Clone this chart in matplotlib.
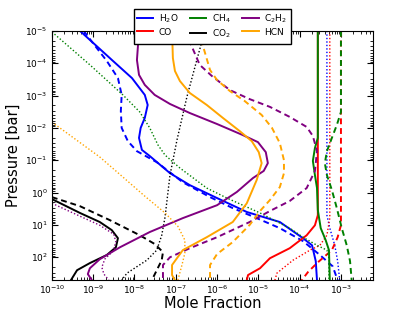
import numpy as np
import matplotlib
matplotlib.use("Agg")
import matplotlib.pyplot as plt
from matplotlib.ticker import NullFormatter

# log10(mole fraction), log10(pressure / bar)
h2o_solid_x = [-9.32, -8.52, -8.06, -7.75, -7.68, -7.75, -7.85, -7.89, -7.82, -7.63, -7.14, -6.66, -6.0, -5.28, -4.48, -3.92, -3.70, -3.61, -3.58]
h2o_solid_p = [-5.0, -4.07, -3.54, -3.02, -2.71, -2.31, -2.0, -1.69, -1.32, -1.13, -0.60, -0.23, 0.17, 0.60, 0.91, 1.41, 1.63, 2.12, 2.71]
h2o_dash_x = [-9.23, -9.01, -8.67, -8.40, -8.31, -8.33, -8.31, -8.16, -7.94, -7.46, -6.83, -6.17, -5.62, -5.04, -4.48, -3.92, -3.51, -3.20, -3.08]
h2o_dash_p = [-5.0, -4.63, -4.07, -3.54, -3.02, -2.52, -2.0, -1.59, -1.28, -0.94, -0.32, 0.14, 0.48, 0.79, 1.10, 1.50, 1.93, 2.28, 2.71]
h2o_dot_x = [-3.34, -3.34, -3.27, -3.15, -3.08, -3.03]
h2o_dot_p = [-5.0, 0.70, 1.10, 1.63, 2.12, 2.71]

co_solid_x = [-3.56, -3.56, -3.63, -3.83, -4.24, -4.72, -4.96, -5.25, -5.28]
co_solid_p = [-5.0, 0.70, 1.01, 1.32, 1.72, 2.03, 2.34, 2.55, 2.71]
co_dash_x = [-3.0, -3.0, -3.08, -3.22, -3.58, -3.80, -3.95]
co_dash_p = [-5.0, 1.01, 1.38, 1.78, 2.18, 2.46, 2.71]
co_dot_x = [-3.27, -3.27, -3.34, -3.51, -3.75, -4.16, -4.55, -4.60]
co_dot_p = [-5.0, 0.79, 1.32, 1.63, 1.78, 2.09, 2.49, 2.71]

ch4_solid_x = [-3.56, -3.56, -3.63, -3.68, -3.63, -3.58, -3.56, -3.49, -3.37, -3.29, -3.27]
ch4_solid_p = [-5.0, -1.69, -1.38, -0.98, -0.54, -0.14, 0.54, 1.10, 1.47, 1.78, 2.71]
ch4_dash_x = [-3.0, -3.0, -3.10, -3.22, -3.34, -3.39, -3.34, -3.22, -3.10, -2.98, -2.86, -2.78, -2.74]
ch4_dash_p = [-5.0, -2.49, -2.09, -1.69, -1.28, -0.91, -0.54, -0.08, 0.48, 1.10, 1.63, 2.12, 2.71]
ch4_dot_x = [-10.0, -9.08, -8.28, -7.87, -7.63, -7.43, -7.26, -6.90, -6.25, -5.76, -4.96, -4.24, -3.92, -3.58, -3.34, -3.29, -3.29]
ch4_dot_p = [-4.97, -3.95, -3.02, -2.49, -2.0, -1.47, -1.16, -0.76, -0.14, 0.17, 0.63, 1.10, 1.38, 1.63, 1.78, 2.03, 2.71]

co2_solid_x = [-10.0, -9.32, -8.84, -8.55, -8.40, -8.45, -8.67, -9.08, -9.39, -9.54]
co2_solid_p = [0.20, 0.63, 0.91, 1.16, 1.41, 1.69, 1.93, 2.18, 2.40, 2.71]
co2_dash_x = [-10.0, -9.32, -8.60, -7.87, -7.51, -7.31, -7.34, -7.46, -7.58]
co2_dash_p = [0.14, 0.42, 0.85, 1.32, 1.59, 1.84, 2.09, 2.40, 2.71]
co2_dot_x = [-6.30, -6.37, -6.49, -6.73, -6.97, -7.14, -7.26, -7.34, -7.46, -7.70, -8.18, -8.31]
co2_dot_p = [-5.0, -4.66, -4.10, -2.96, -1.63, -0.54, 0.76, 1.32, 1.78, 2.09, 2.49, 2.71]

c2h2_solid_x = [-7.89, -7.94, -7.89, -7.75, -7.51, -7.14, -6.66, -6.0, -5.38, -5.01, -4.82, -4.77, -4.87, -5.13, -5.52, -6.0, -6.83, -7.63, -8.35, -8.84, -9.08, -9.13, -9.03]
c2h2_solid_p = [-5.0, -4.10, -3.64, -3.33, -3.02, -2.74, -2.46, -2.12, -1.78, -1.56, -1.25, -0.91, -0.67, -0.45, -0.02, 0.39, 0.79, 1.22, 1.69, 2.06, 2.34, 2.52, 2.71]
c2h2_dash_x = [-6.78, -6.66, -6.42, -6.13, -5.69, -5.21, -4.72, -4.24, -3.83, -3.68, -3.58, -3.63, -3.83, -4.24, -4.72, -5.21, -6.0, -6.66, -7.14, -7.31, -7.31]
c2h2_dash_p = [-5.0, -4.66, -3.95, -3.61, -3.17, -2.89, -2.65, -2.34, -2.03, -1.75, -1.28, -0.67, -0.14, 0.26, 0.57, 0.91, 1.38, 1.72, 2.0, 2.24, 2.71]
c2h2_dot_x = [-10.0, -9.32, -8.84, -8.50, -8.45, -8.52, -8.72, -8.79, -8.74, -8.62]
c2h2_dot_p = [0.33, 0.73, 1.01, 1.29, 1.53, 1.81, 2.06, 2.31, 2.52, 2.71]

hcn_solid_x = [-7.09, -7.07, -7.02, -6.90, -6.66, -6.25, -5.86, -5.45, -5.16, -4.99, -4.92, -5.04, -5.28, -5.62, -6.25, -6.83, -7.09, -7.09, -7.02]
hcn_solid_p = [-5.0, -4.16, -3.76, -3.45, -3.08, -2.71, -2.31, -1.90, -1.59, -1.25, -0.91, -0.39, 0.33, 0.91, 1.38, 1.78, 2.24, 2.55, 2.71]
hcn_dash_x = [-6.49, -6.37, -6.17, -6.0, -5.69, -5.33, -4.92, -4.67, -4.48, -4.38, -4.38, -4.48, -4.72, -4.96, -5.21, -5.62, -6.0, -6.17, -6.17]
hcn_dash_p = [-5.0, -4.66, -3.79, -3.48, -3.14, -2.83, -2.40, -2.0, -1.53, -1.0, -0.60, -0.17, 0.23, 0.57, 1.0, 1.53, 1.90, 2.24, 2.71]
hcn_dot_x = [-10.0, -8.84, -8.28, -7.75, -7.26, -6.95, -6.78, -6.78, -6.85, -6.95]
hcn_dot_p = [-2.18, -1.10, -0.48, 0.11, 0.63, 1.04, 1.47, 1.87, 2.24, 2.71]

species = [
    ("H$_2$O", "blue", (h2o_solid_x, h2o_solid_p), (h2o_dash_x, h2o_dash_p), (h2o_dot_x, h2o_dot_p)),
    ("CO", "red", (co_solid_x, co_solid_p), (co_dash_x, co_dash_p), (co_dot_x, co_dot_p)),
    ("CH$_4$", "green", (ch4_solid_x, ch4_solid_p), (ch4_dash_x, ch4_dash_p), (ch4_dot_x, ch4_dot_p)),
    ("CO$_2$", "black", (co2_solid_x, co2_solid_p), (co2_dash_x, co2_dash_p), (co2_dot_x, co2_dot_p)),
    ("C$_2$H$_2$", "purple", (c2h2_solid_x, c2h2_solid_p), (c2h2_dash_x, c2h2_dash_p), (c2h2_dot_x, c2h2_dot_p)),
    ("HCN", "orange", (hcn_solid_x, hcn_solid_p), (hcn_dash_x, hcn_dash_p), (hcn_dot_x, hcn_dot_p)),
]

fig = plt.figure(figsize=(4.15, 3.12), dpi=100)
ax = fig.add_axes([0.125, 0.103, 0.774, 0.798])

for name, col, sol, dash, dot in species:
    ax.plot(10**np.array(sol[0]), 10**np.array(sol[1]), color=col, lw=1.4, ls="-", label=name)
    ax.plot(10**np.array(dash[0]), 10**np.array(dash[1]), color=col, lw=1.4, ls=(0, (3, 2)))
    ax.plot(10**np.array(dot[0]), 10**np.array(dot[1]), color=col, lw=1.0, ls=(0, (1, 1.5)))

ax.set_xscale("log")
ax.set_yscale("log")
ax.set_xticks([10.0**k for k in range(-10, -2)])
ax.set_yticks([10.0**k for k in range(-5, 3)])
ax.set_xlim(1e-10, 6e-3)
ax.set_ylim(5e2, 1e-5)
ax.xaxis.set_minor_formatter(NullFormatter())
ax.yaxis.set_minor_formatter(NullFormatter())
ax.tick_params(which="both", direction="in", top=True, right=True, labelsize=6.5, pad=3)
ax.tick_params(which="major", length=4)
ax.tick_params(which="minor", length=2)
ax.set_xlabel("Mole Fraction", fontsize=10.5, labelpad=0)
ax.set_ylabel("Pressure [bar]", fontsize=10.5, labelpad=3)

fig.legend(loc="upper center", bbox_to_anchor=(0.511, 0.972), ncol=3, fontsize=6.5,
           fancybox=False, edgecolor="black", framealpha=1, handlelength=1.8,
           handletextpad=0.6, columnspacing=1.3, labelspacing=0.3, borderaxespad=0)

fig.savefig("out.png", dpi=100)
